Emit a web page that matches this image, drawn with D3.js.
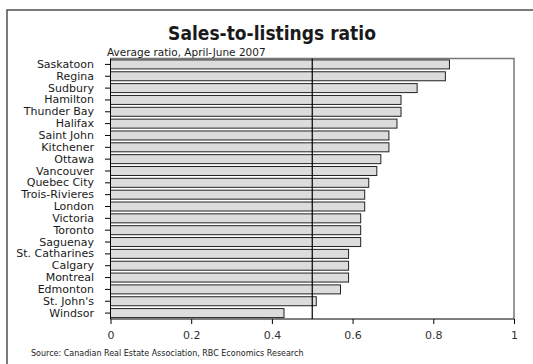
<!DOCTYPE html>
<html>
<head>
<meta charset="utf-8">
<script src="https://cdn.jsdelivr.net/npm/d3@7"></script>
<style>
  body { margin: 0; background: #fff; }
  text { font-family: "DejaVu Sans", sans-serif; fill: #1a1a1a; }
</style>
</head>
<body>
<script>
const cities = ["Saskatoon", "Regina", "Sudbury", "Hamilton", "Thunder Bay", "Halifax",
  "Saint John", "Kitchener", "Ottawa", "Vancouver", "Quebec City", "Trois-Rivieres",
  "London", "Victoria", "Toronto", "Saguenay", "St. Catharines", "Calgary",
  "Montreal", "Edmonton", "St. John's", "Windsor"];
const ratios = [0.84, 0.83, 0.76, 0.72, 0.72, 0.71, 0.69, 0.69, 0.67, 0.66, 0.64, 0.63,
  0.63, 0.62, 0.62, 0.62, 0.59, 0.59, 0.59, 0.57, 0.51, 0.43];
const xTicks = [0, 0.2, 0.4, 0.6, 0.8, 1];
const refLine = 0.5;

init();

function init() {
  let width = 533, height = 364,
      margin = {l: 110.5, r: 19, t: 58.5, b: 45};

  let svg = d3.select("body")
              .append("svg")
              .attr("width", width)
              .attr("height", height);

  // outer frame
  svg.append("rect")
     .attr("x", 7).attr("y", 10)
     .attr("width", 560).attr("height", 400)
     .attr("fill", "none")
     .attr("stroke", "#5a5a5a")
     .attr("stroke-width", 1.6);

  let x = d3.scaleLinear().domain([0, 1]).range([margin.l, width - margin.r]);
  let y = d3.scaleBand().domain(cities).range([margin.t, height - margin.b]).paddingInner(0.24).paddingOuter(0.12);

  // plot frame top/right
  svg.append("path")
     .attr("d", `M${x(0)},${margin.t}H${x(1)}V${height - margin.b}`)
     .attr("fill", "none")
     .attr("stroke", "#777")
     .attr("stroke-width", 1.5);

  svg.append("g")
     .selectAll("rect")
     .data(cities)
     .join("rect")
     .attr("x", x(0))
     .attr("y", d => y(d))
     .attr("width", (d, i) => x(ratios[i]) - x(0))
     .attr("height", y.bandwidth())
     .attr("fill", "#dcdcdc")
     .attr("stroke", "#222")
     .attr("stroke-width", 1);

  // reference line at 0.5
  svg.append("line")
     .attr("x1", x(refLine)).attr("x2", x(refLine))
     .attr("y1", margin.t).attr("y2", height - margin.b)
     .attr("stroke", "#000")
     .attr("stroke-width", 1.2);

  let yAxis = svg.append("g")
     .attr("transform", `translate(${x(0)},0)`)
     .call(d3.axisLeft(y).tickSize(5.5).tickPadding(11));
  yAxis.select(".domain").attr("stroke", "#000").attr("d", `M0,${margin.t}V${height - margin.b}`);
  yAxis.selectAll("text").style("font-size", "11px");

  let xAxis = svg.append("g")
     .attr("transform", `translate(0,${height - margin.b})`)
     .call(d3.axisBottom(x).tickValues(xTicks).tickFormat(d3.format("")).tickSize(5).tickPadding(7));
  xAxis.select(".domain").attr("stroke", "#000").attr("d", `M${x(0)},0H${x(1)}`);
  xAxis.selectAll("text").style("font-size", "11px").style("fill", "#333");

  svg.append("text")
     .attr("x", 272).attr("y", 40)
     .attr("text-anchor", "middle")
     .style("font-family", "'DejaVu Sans Condensed', 'DejaVu Sans', sans-serif")
     .style("font-stretch", "condensed")
     .style("font-size", "19px")
     .style("font-weight", "bold")
     .text("Sales-to-listings ratio");

  svg.append("text")
     .attr("x", 107).attr("y", 56)
     .style("font-size", "10.5px")
     .text("Average ratio, April-June 2007");

  svg.append("text")
     .attr("x", 31).attr("y", 356)
     .style("font-size", "8px")
     .text("Source: Canadian Real Estate Association, RBC Economics Research");
}
</script>
</body>
</html>
